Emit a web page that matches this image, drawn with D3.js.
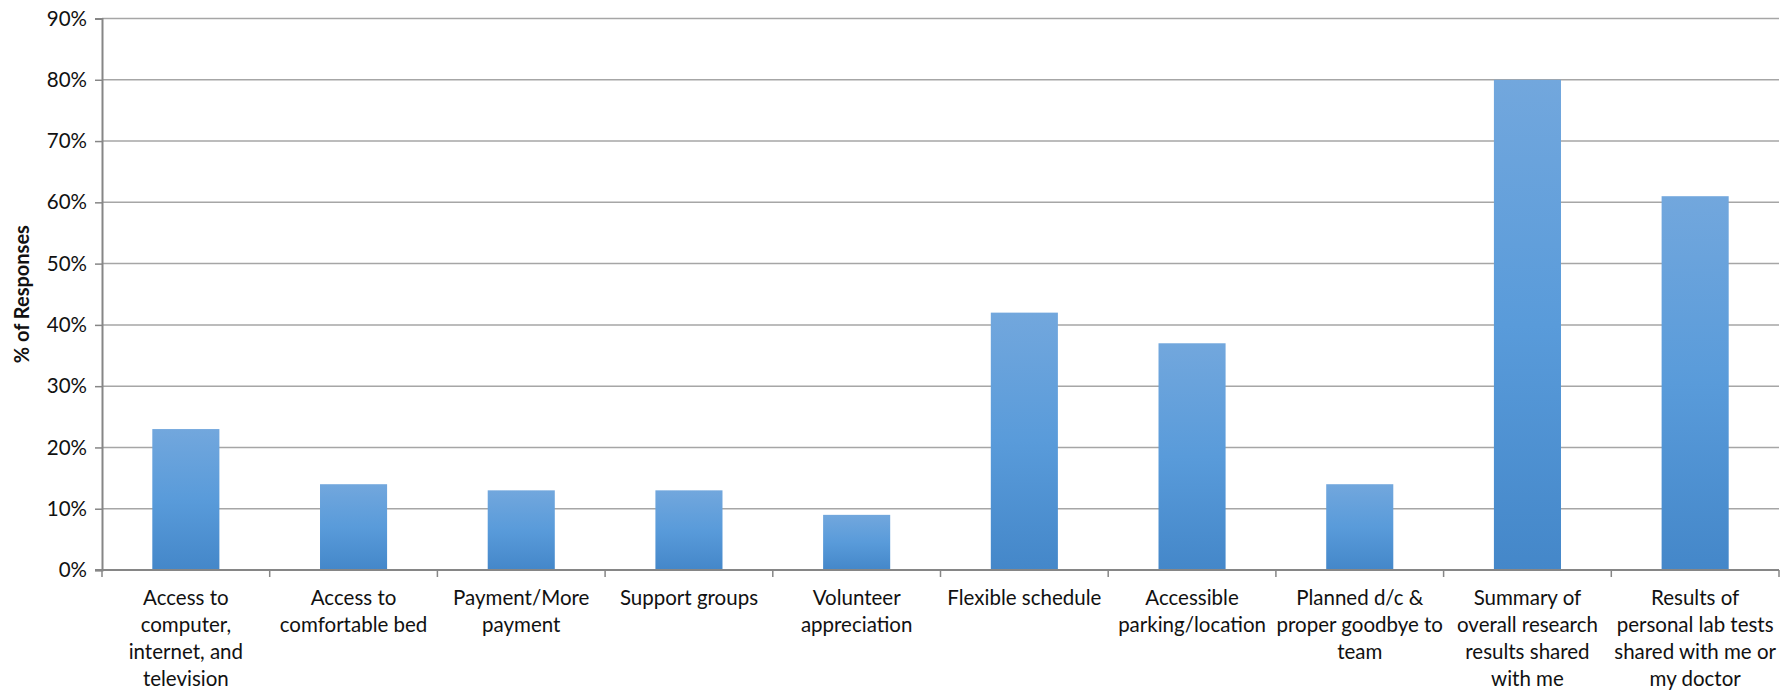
<!DOCTYPE html>
<html>
<head>
<meta charset="utf-8">
<script src="https://cdn.jsdelivr.net/npm/d3@7"></script>
<style>
  html, body { margin: 0; padding: 0; background: #fff; }
  svg { display: block; }
  text { font-family: Lato, "Open Sans", sans-serif; fill: #111; }
</style>
</head>
<body>
<svg id="chart" width="1789" height="691"></svg>
<script>
// Survey categories (each label split into its wrapped lines)
const categories = [
  ["Access to", "computer,", "internet, and", "television"],
  ["Access to", "comfortable bed"],
  ["Payment/More", "payment"],
  ["Support groups"],
  ["Volunteer", "appreciation"],
  ["Flexible schedule"],
  ["Accessible", "parking/location"],
  ["Planned d/c &", "proper goodbye to", "team"],
  ["Summary of", "overall research", "results shared", "with me"],
  ["Results of", "personal lab tests", "shared with me or", "my doctor"]
];
// Share of responses, in percent
const values = [23, 14, 13, 13, 9, 42, 37, 14, 80, 61];
const yTicks = [0, 10, 20, 30, 40, 50, 60, 70, 80, 90];
const yTitle = "% of Responses";

const svg = d3.select("#chart");
const margin = { left: 102, right: 10, top: 18.5, bottom: 121 };
const W = 1789, H = 691;
const plotBottom = H - margin.bottom; // 570

const x = d3.scaleBand()
  .domain(d3.range(categories.length))
  .range([margin.left, W - margin.right])
  .paddingInner(0.6).paddingOuter(0.3);

const y = d3.scaleLinear().domain([0, 90]).range([plotBottom, margin.top]);

// Vertical gradient used for every bar
const defs = svg.append("defs");
const grad = defs.append("linearGradient").attr("id", "barFill")
  .attr("x1", 0).attr("y1", 0).attr("x2", 0).attr("y2", 1);
grad.append("stop").attr("offset", "0%").attr("stop-color", "#72A7DD");
grad.append("stop").attr("offset", "50%").attr("stop-color", "#599BDA");
grad.append("stop").attr("offset", "100%").attr("stop-color", "#4487C9");

// Horizontal gridlines
svg.append("g")
  .selectAll("line")
  .data(yTicks.filter(d => d > 0))
  .join("line")
  .attr("x1", margin.left).attr("x2", W - margin.right)
  .attr("y1", d => y(d)).attr("y2", d => y(d))
  .attr("stroke", "#A6A6A6").attr("stroke-width", 1.5);

// Bars
svg.append("g")
  .selectAll("rect")
  .data(values)
  .join("rect")
  .attr("x", (d, i) => x(i))
  .attr("width", x.bandwidth())
  .attr("y", d => y(d))
  .attr("height", d => plotBottom - y(d))
  .attr("fill", "url(#barFill)");

// Y axis
const yAxis = svg.append("g")
  .attr("transform", `translate(${margin.left},0)`)
  .call(d3.axisLeft(y).tickValues(yTicks).tickFormat(d => d + "%").tickSizeOuter(0).tickSize(7).tickPadding(8));
yAxis.select(".domain").attr("stroke", "#868686").attr("stroke-width", 2);
yAxis.selectAll(".tick line").attr("stroke", "#868686").attr("stroke-width", 1.5);
yAxis.selectAll(".tick text").style("font-size", "20.5px").attr("fill", "#111");

// X axis: baseline with tick marks at category boundaries
const bounds = d3.range(categories.length + 1).map(i => margin.left + i * (W - margin.right - margin.left) / categories.length);
svg.append("line")
  .attr("x1", margin.left - 7).attr("x2", W - margin.right)
  .attr("y1", plotBottom).attr("y2", plotBottom)
  .attr("stroke", "#868686").attr("stroke-width", 2);
svg.append("g").selectAll("line")
  .data(bounds)
  .join("line")
  .attr("x1", d => d).attr("x2", d => d)
  .attr("y1", plotBottom).attr("y2", plotBottom + 7)
  .attr("stroke", "#868686").attr("stroke-width", 1.5);

// Category labels
const lab = svg.append("g").selectAll("text")
  .data(categories)
  .join("text")
  .attr("text-anchor", "middle")
  .attr("x", (d, i) => x(i) + x.bandwidth() / 2)
  .attr("y", plotBottom + 35)
  .style("font-size", "20.5px");
lab.selectAll("tspan")
  .data(d => d)
  .join("tspan")
  .attr("x", function() { return d3.select(this.parentNode).attr("x"); })
  .attr("dy", (d, i) => i === 0 ? 0 : 27)
  .text(d => d);

// Y axis title
svg.append("text")
  .attr("transform", `translate(29,${(margin.top + plotBottom) / 2}) rotate(-90)`)
  .attr("text-anchor", "middle")
  .style("font-size", "20px")
  .style("font-weight", "bold")
  .text(yTitle);
</script>
</body>
</html>
